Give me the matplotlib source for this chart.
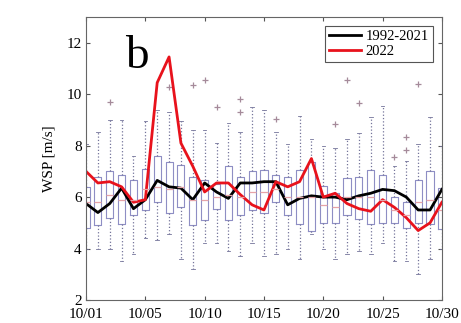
import matplotlib
matplotlib.use("Agg")
import matplotlib.pyplot as plt
import numpy as np

plt.rcParams["font.family"] = ["Liberation Serif", "DejaVu Serif"]

# daily box statistics (31 days, positions 0..30)
q1 = [4.8, 4.9, 5.2, 4.95, 5.3, 5.5, 5.8, 5.4, 5.6, 4.9, 5.1, 5.55, 5.1, 5.3, 5.5, 5.4,
      5.8, 5.3, 4.95, 4.7, 5.0, 5.0, 5.3, 5.15, 4.95, 5.0, 5.0, 4.8, 5.0, 4.95, 4.75]
q3 = [6.4, 6.8, 7.0, 6.85, 6.65, 7.1, 7.6, 7.35, 7.25, 6.8, 6.65, 6.5, 7.2, 6.8, 7.0, 7.05,
      6.85, 6.8, 7.05, 7.35, 6.45, 6.15, 6.75, 6.8, 7.05, 6.85, 6.0, 5.8, 6.65, 7.0, 6.35]
med = [5.8, 5.8, 6.1, 5.9, 5.9, 6.3, 6.4, 6.3, 6.4, 5.9, 5.9, 6.0, 6.1, 6.0, 6.2, 6.2,
       6.3, 6.0, 6.0, 6.0, 5.7, 5.6, 6.0, 6.0, 6.0, 5.9, 5.5, 5.3, 5.8, 5.9, 5.5]
whi = [8.05, 8.55, 9.0, 9.0, 7.6, 8.95, 9.4, 9.3, 8.95, 8.6, 8.6, 8.1, 8.9, 8.55, 9.5, 9.4,
       8.55, 8.05, 9.15, 8.25, 8.0, 7.9, 8.25, 8.5, 9.1, 9.55, 7.2, 7.4, 8.05, 9.1, 8.0]
wlo = [4.0, 4.0, 4.0, 3.5, 3.8, 4.4, 4.35, 4.55, 3.6, 3.2, 4.2, 4.2, 3.9, 3.7, 4.2, 3.7,
       3.8, 4.0, 3.6, 4.55, 4.0, 3.6, 3.8, 3.9, 3.8, 4.2, 3.5, 3.5, 3.0, 3.6, 4.0]
fliers = {2: [9.7], 7: [10.3], 9: [10.35], 10: [10.55], 11: [9.5], 13: [9.8, 9.3],
          16: [9.05], 21: [8.85], 22: [10.55], 23: [9.65], 26: [7.55],
          27: [8.35, 7.85], 28: [10.4]}

clim = [5.75, 5.4, 5.75, 6.35, 5.55, 5.9, 6.65, 6.4, 6.35, 5.9, 6.55, 6.2, 5.95, 6.55, 6.55, 6.6,
        6.6, 5.7, 5.95, 6.05, 6.0, 6.0, 5.9, 6.05, 6.15, 6.3, 6.25, 6.0, 5.5, 5.5, 6.3]
y2022 = [7.0, 6.55, 6.6, 6.4, 5.8, 5.9, 10.45, 11.45, 8.1, 7.2, 6.2, 6.55, 6.55, 6.1, 5.7, 5.5,
         6.6, 6.4, 6.6, 7.5, 6.0, 6.15, 5.75, 5.55, 5.45, 5.9, 5.6, 5.2, 4.7, 5.0, 5.8]

tick_pos = [0, 5, 10, 15, 20, 25, 30]
tick_labels = ["10/01", "10/05", "10/10", "10/15", "10/20", "10/25", "10/30"]

stats = []
for i in range(len(q1)):
    stats.append({"q1": q1[i], "q3": q3[i], "med": med[i], "whislo": wlo[i],
                  "whishi": whi[i], "fliers": fliers.get(i, [])})

fig = plt.figure(figsize=(4.61, 3.23), dpi=100)
ax = fig.add_axes([0.1866, 0.0712, 0.772, 0.876])

days = np.arange(len(q1))
box_c = "#8e8ec4"
ax.bxp(stats, positions=days, widths=0.6, showfliers=True,
       boxprops=dict(color=box_c, lw=0.8),
       whiskerprops=dict(color="#74749a", lw=0.9, linestyle=":"),
       capprops=dict(color="#74749a", lw=0.6),
       medianprops=dict(color="#e6a3a8", lw=0.9),
       flierprops=dict(marker="+", markeredgecolor="#a58a9a", markersize=5, mew=0.9))

ax.plot(days, clim, color="black", lw=2, label="1992-2021")
ax.plot(days, y2022, color="#e8121c", lw=2, label="2022")

ax.set_xlim(0, 30)
ax.set_ylim(2, 13)
ax.set_yticks([2, 4, 6, 8, 10, 12])
ax.set_xticks(tick_pos)
ax.set_xticklabels(tick_labels)
ax.tick_params(direction="in", top=True, right=True, labelsize=11, length=3,
               color="#555555")
ax.tick_params(axis="x", pad=6)
ax.tick_params(axis="y", pad=3)
for s in ax.spines.values():
    s.set_color("#666666")
    s.set_linewidth(0.8)
ax.set_ylabel("WSP [m/s]", fontsize=11, labelpad=8)

ax.text(3.3, 11.0, "b", fontsize=34, ha="left", va="baseline")

leg = ax.legend(loc="upper right", fontsize=10.5, handlelength=2.2, fancybox=False,
                framealpha=1, edgecolor="#555555", borderpad=0.3, labelspacing=0.1,
                handletextpad=0.3, borderaxespad=0.6)
leg.get_frame().set_linewidth(0.8)

fig.savefig("out.png", dpi=100, facecolor="white")
